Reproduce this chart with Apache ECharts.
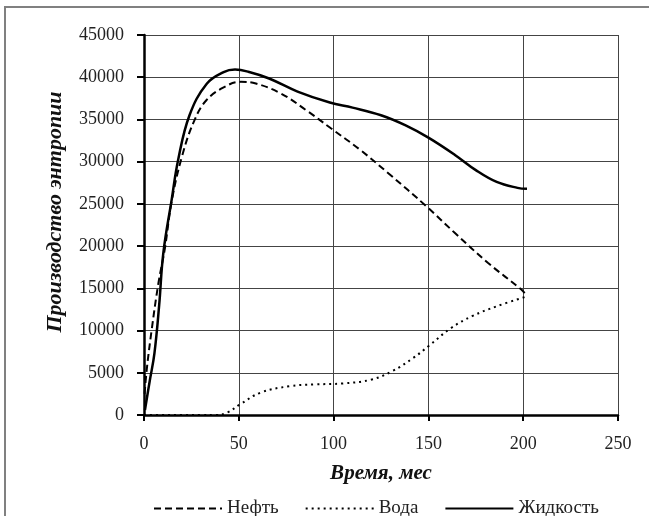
<!DOCTYPE html>
<html>
<head>
<meta charset="utf-8">
<script src="https://cdn.jsdelivr.net/npm/echarts@6/dist/echarts.min.js"></script>
<style>
  html, body { margin: 0; padding: 0; background: #fff; }
  #main { width: 649px; height: 516px; }
</style>
</head>
<body>
<div id="main"></div>
<script>
// данные: [время, мес; производство энтропии]
var oil = [[0.3, 2500], [1.5, 5500], [4, 10000], [7.6, 15600], [11, 19700], [14.6, 25300],
  [20, 30600], [26.6, 34900], [33, 37300], [42, 38800], [51, 39450], [59, 39250],
  [72, 38100], [85.5, 36100], [98.6, 33950], [114, 31400], [129, 28600], [149, 24700],
  [164, 21550], [181.5, 18000], [199, 14850], [202, 14100]];
var water = [[0, 0], [10, 0], [20, 0], [30, 0], [38, 0], [44, 300], [50.6, 1250],
  [61.5, 2650], [77, 3420], [90, 3620], [105, 3740], [120, 4200], [131, 5200],
  [142, 6750], [150, 8150], [162, 10300], [173, 11700], [186, 12870], [202, 14050]];
var liquid = [[0.5, 600], [3, 4000], [5.5, 7300], [8, 13000], [10.2, 19200], [14.6, 25500],
  [18, 30200], [24, 35500], [33, 39200], [42, 40600], [48, 40900], [55, 40650],
  [66, 39850], [81, 38300], [98, 37000], [110, 36400], [125, 35500], [138, 34300],
  [150, 32850], [164, 30800], [175, 29000], [186, 27600], [197, 26900], [202, 26780]];
var seriesNames = ['Нефть', 'Вода', 'Жидкость'];

var font = 'Liberation Serif';
var chart = echarts.init(document.getElementById('main'));

var option = {
  backgroundColor: '#fff',
  animation: false,
  textStyle: { fontFamily: font },
  graphic: [{
    type: 'rect',
    shape: { x: 5, y: 7, width: 700, height: 600 },
    style: { fill: 'none', stroke: '#808080', lineWidth: 2 },
    silent: true
  }],
  grid: { left: 144, right: 31, top: 35, bottom: 101 },
  legend: {
    left: 148,
    top: 494,
    itemWidth: 68,
    itemHeight: 12,
    itemGap: 26,
    itemStyle: { opacity: 0 },
    textStyle: { fontFamily: font, fontSize: 19, color: '#222' },
    data: seriesNames
  },
  xAxis: {
    type: 'value',
    min: 0, max: 250, interval: 50,
    name: 'Время, мес',
    nameLocation: 'middle',
    nameGap: 48,
    nameTextStyle: { fontFamily: font, fontSize: 21, fontWeight: 'bold', fontStyle: 'italic', color: '#111' },
    axisLine: { lineStyle: { color: '#000', width: 2.5 } },
    axisTick: { show: true, length: 6, lineStyle: { color: '#000', width: 2 } },
    axisLabel: { fontFamily: font, fontSize: 18, color: '#222', margin: 20 },
    splitLine: { show: true, lineStyle: { color: '#444', width: 1 } }
  },
  yAxis: {
    type: 'value',
    min: 0, max: 45000, interval: 5000,
    name: 'Производство энтропии',
    nameLocation: 'middle',
    nameGap: 78,
    nameTextStyle: { fontFamily: font, fontSize: 22, fontWeight: 'bold', fontStyle: 'italic', color: '#111', padding: [0, 0, 0, 26] },
    axisLine: { show: true, lineStyle: { color: '#000', width: 2.5 } },
    axisTick: { show: true, length: 7, lineStyle: { color: '#000', width: 2 } },
    axisLabel: { fontFamily: font, fontSize: 18, color: '#222', margin: 20, formatter: function (v) { return String(v); } },
    splitLine: { show: true, lineStyle: { color: '#444', width: 1 } }
  },
  series: [{
    name: seriesNames[0],
    type: 'line',
    data: oil,
    smooth: 0.4,
    symbol: 'none',
    lineStyle: { color: '#000', width: 2, type: [7, 4] },
    itemStyle: { color: '#000' },
    z: 3
  }, {
    name: seriesNames[1],
    type: 'line',
    data: water,
    smooth: 0.4,
    symbol: 'none',
    lineStyle: { color: '#000', width: 2, type: [2, 4] },
    itemStyle: { color: '#000' },
    z: 3
  }, {
    name: seriesNames[2],
    type: 'line',
    data: liquid,
    smooth: 0.4,
    symbol: 'none',
    lineStyle: { color: '#000', width: 2.5, type: 'solid' },
    itemStyle: { color: '#000' },
    z: 4
  }]
};

chart.setOption(option);
</script>
</body>
</html>
